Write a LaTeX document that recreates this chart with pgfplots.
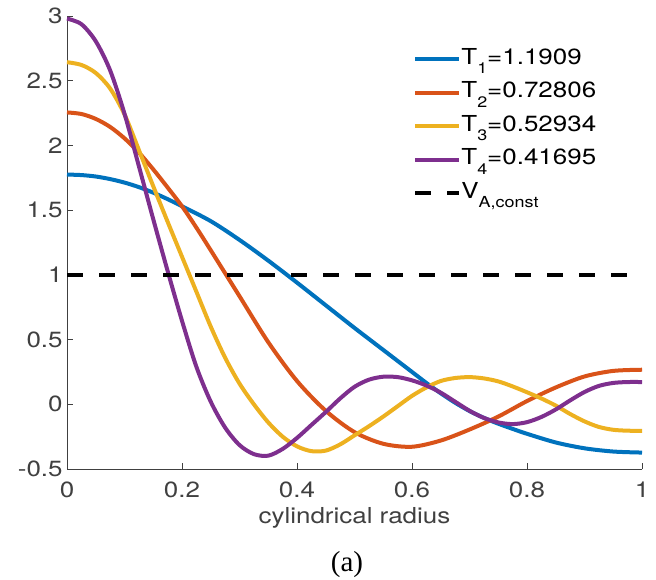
\documentclass[border=0pt]{standalone}
\usepackage{fontspec}
\setmainfont[FakeStretch=1.18]{TeX Gyre Heros}
\newfontfamily\timesfont{Liberation Serif}
\usepackage{pgfplots}
\pgfplotsset{compat=1.18}
\definecolor{mblue}{HTML}{0072BD}
\definecolor{morange}{HTML}{D95319}
\definecolor{myellow}{HTML}{EDB120}
\definecolor{mpurple}{HTML}{7E2F8E}
\definecolor{axgray}{HTML}{404040}
\newcommand{\sub}[1]{\raisebox{-4.8pt}{\fontsize{7.6}{8}\selectfont #1}}
\begin{document}
\begin{tikzpicture}
\useasboundingbox (-33.5pt,-55pt) rectangle (294.5pt,234.5pt);
\begin{axis}[
  at={(0,0)}, anchor=south west,
  scale only axis, width=287.5pt, height=226.5pt,
  xmin=0, xmax=1, ymin=-0.5, ymax=3,
  axis x line=bottom, axis y line=left,
  axis line style={-, axgray, line width=0.5pt},
  xtick={0,0.2,0.4,0.6,0.8,1}, xticklabels={0,0.2,0.4,0.6,0.8,1},
  ytick={-0.5,0,0.5,1,1.5,2,2.5,3}, yticklabels={-0.5,0,0.5,1,1.5,2,2.5,3},
  tick align=inside, major tick length=3.2pt,
  tick style={axgray, line width=0.5pt},
  every tick label/.append style={font=\fontsize{11}{12}\selectfont, text=axgray},
  yticklabel style={inner sep=0pt, anchor=east, xshift=-2pt},
  xticklabel style={inner sep=0pt, anchor=north, yshift=-6.3pt},
  xlabel={cylindrical radius},
  xlabel style={at={(axis description cs:0.5,0)}, anchor=base, yshift=-27pt, inner sep=0pt, font=\fontsize{11}{12}\selectfont, text=axgray},
  clip=false,
  legend image code/.code={\draw[#1] (0pt,1.5pt) -- (22pt,1.5pt);},
  legend cell align=left,
  legend style={at={(rel axis cs:0.6017,0.9294)}, anchor=north west, draw=none, fill=none, inner sep=0pt,
    font=\fontsize{11}{12}\selectfont, row sep=2.75pt,
    nodes={inner sep=0pt, text height=8pt, text depth=6pt}},
]
\addplot[mblue, line width=2pt, smooth] coordinates {
(0,1.775)(0.025,1.771)(0.05,1.76)(0.075,1.74)(0.1,1.713)(0.125,1.678)(0.15,1.635)(0.175,1.585)(0.2,1.53)(0.25,1.415)(0.3,1.27)(0.35,1.11)(0.4,0.94)(0.45,0.765)(0.5,0.59)(0.55,0.42)(0.6,0.25)(0.625,0.165)(0.65,0.085)(0.675,0.012)(0.7,-0.052)(0.725,-0.105)(0.75,-0.15)(0.775,-0.19)(0.8,-0.228)(0.85,-0.295)(0.9,-0.34)(0.95,-0.365)(1,-0.373)};
\addlegendentry{T\sub{1}=1.1909}
\addplot[morange, line width=2pt, smooth] coordinates {
(0,2.255)(0.025,2.243)(0.05,2.205)(0.075,2.143)(0.1,2.055)(0.125,1.945)(0.15,1.815)(0.175,1.675)(0.2,1.53)(0.225,1.365)(0.25,1.19)(0.3,0.835)(0.35,0.48)(0.4,0.18)(0.45,-0.05)(0.5,-0.215)(0.55,-0.305)(0.6,-0.328)(0.65,-0.28)(0.7,-0.195)(0.75,-0.095)(0.8,0.025)(0.85,0.13)(0.9,0.215)(0.95,0.258)(1,0.267)};
\addlegendentry{T\sub{2}=0.72806}
\addplot[myellow, line width=2pt, smooth] coordinates {
(0,2.643)(0.025,2.622)(0.05,2.56)(0.075,2.44)(0.1,2.24)(0.125,1.965)(0.15,1.685)(0.175,1.41)(0.2,1.14)(0.225,0.87)(0.25,0.6)(0.275,0.36)(0.3,0.16)(0.325,0.0)(0.35,-0.14)(0.375,-0.25)(0.4,-0.325)(0.425,-0.362)(0.45,-0.358)(0.475,-0.31)(0.5,-0.24)(0.525,-0.17)(0.55,-0.095)(0.575,-0.015)(0.6,0.065)(0.625,0.13)(0.65,0.18)(0.675,0.203)(0.7,0.21)(0.725,0.2)(0.75,0.177)(0.775,0.138)(0.8,0.093)(0.825,0.045)(0.85,-0.01)(0.875,-0.075)(0.9,-0.132)(0.925,-0.175)(0.95,-0.197)(0.975,-0.204)(1,-0.205)};
\addlegendentry{T\sub{3}=0.52934}
\addplot[mpurple, line width=2pt, smooth] coordinates {
(0,2.98)(0.025,2.937)(0.05,2.805)(0.075,2.58)(0.1,2.245)(0.125,1.84)(0.15,1.43)(0.175,1.03)(0.2,0.645)(0.225,0.29)(0.25,0.02)(0.275,-0.18)(0.3,-0.315)(0.325,-0.385)(0.35,-0.397)(0.375,-0.345)(0.4,-0.26)(0.425,-0.16)(0.45,-0.06)(0.475,0.045)(0.5,0.135)(0.525,0.19)(0.55,0.213)(0.575,0.21)(0.6,0.185)(0.625,0.145)(0.65,0.09)(0.675,0.02)(0.7,-0.05)(0.725,-0.105)(0.75,-0.14)(0.775,-0.153)(0.8,-0.138)(0.825,-0.098)(0.85,-0.04)(0.875,0.03)(0.9,0.095)(0.925,0.142)(0.95,0.165)(0.975,0.172)(1,0.172)};
\addlegendentry{T\sub{4}=0.41695}
\addplot[black, line width=2pt, dash pattern=on 8pt off 8pt] coordinates {(0,1)(1,1)};
\addlegendentry{V\sub{A,const}}
\end{axis}
\node[anchor=base, inner sep=0pt, font={\timesfont\fontsize{14.5}{16}\selectfont}] at (140pt,-51.3pt) {(a)};
\end{tikzpicture}
\end{document}
